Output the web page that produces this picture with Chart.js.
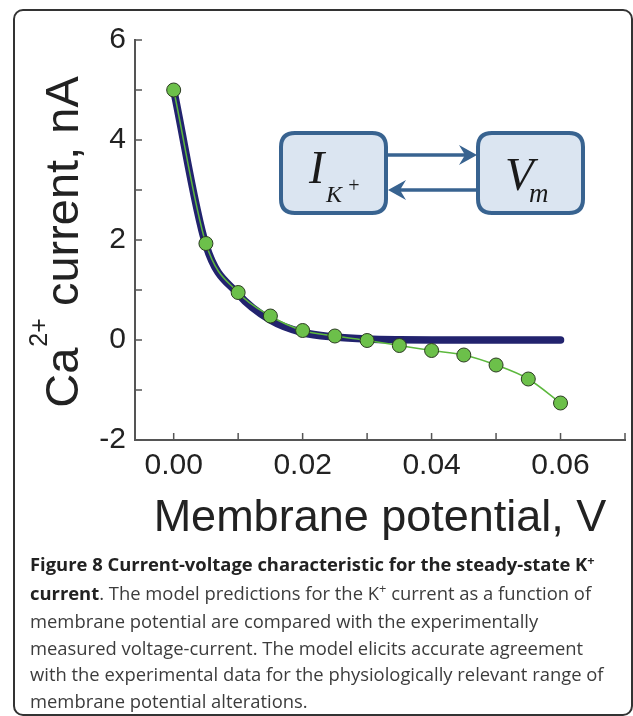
<!DOCTYPE html>
<html><head><meta charset="utf-8">
<script src="https://cdn.jsdelivr.net/npm/chart.js@4/dist/chart.umd.min.js"></script>
<style>
html,body{margin:0;padding:0;background:#fff;}
body{width:633px;height:716px;position:relative;overflow:hidden;}
#wrap{position:absolute;left:0;top:0;width:633px;height:716px;}
#frame{position:absolute;left:13px;top:9px;width:620px;height:707px;box-sizing:border-box;border:2px solid #333;border-radius:10px;pointer-events:none;}
#caption{position:absolute;left:30px;top:551px;font-family:"Open Sans";font-size:18.4px;line-height:26.5px;color:#3c3c3c;white-space:nowrap;}
#caption b{color:#222;font-weight:700}
#caption sup{font-size:0.7em;vertical-align:0;position:relative;top:-0.5em;}
</style></head>
<body>
<div id="wrap"><canvas id="c" width="633" height="716"></canvas></div>
<div id="frame"></div>
<div id="caption"><b>Figure 8 Current-voltage characteristic for the steady-state K<sup>+</sup><br>current</b>. The model predictions for the K<sup>+</sup> current as a function of<br>membrane potential are compared with the experimentally<br>measured voltage-current. The model elicits accurate agreement<br>with the experimental data for the physiologically relevant range of<br>membrane potential alterations.</div>
<script>
// ---- data ----
const xValues = [0, 0.005, 0.01, 0.015, 0.02, 0.025, 0.03, 0.035, 0.04, 0.045, 0.05, 0.055, 0.06];
const measured = [5.0, 1.93, 0.95, 0.48, 0.19, 0.08, -0.01, -0.11, -0.21, -0.30, -0.50, -0.78, -1.26];
const model = [5.0, 1.9, 0.92, 0.40, 0.15, 0.06, 0.02, 0.005, 0, 0, 0, 0, 0];
const xTickValues = [0, 0.02, 0.04, 0.06];
const xTickLabels = ['0.00', '0.02', '0.04', '0.06'];
const xMinorTicks = [0, 0.01, 0.02, 0.03, 0.04, 0.05, 0.06, 0.07];
const yTickValues = [-2, 0, 2, 4, 6];
const yTickLabels = ['-2', '0', '2', '4', '6'];
const yMinorTicks = [-2, -1, 0, 1, 2, 3, 4, 5, 6];
const xTitle = 'Membrane potential, V';
const yTitleParts = ['Ca', '2+', ' current, nA'];
const boxLabels = [['I', 'K', '+'], ['V', 'm']];

function rr(ctx, x, y, w, h, r) {
  ctx.beginPath();
  ctx.moveTo(x + r, y);
  ctx.lineTo(x + w - r, y); ctx.quadraticCurveTo(x + w, y, x + w, y + r);
  ctx.lineTo(x + w, y + h - r); ctx.quadraticCurveTo(x + w, y + h, x + w - r, y + h);
  ctx.lineTo(x + r, y + h); ctx.quadraticCurveTo(x, y + h, x, y + h - r);
  ctx.lineTo(x, y + r); ctx.quadraticCurveTo(x, y, x + r, y);
  ctx.closePath();
}

const deco = {
  id: 'deco',
  beforeDatasetsDraw(chart) {
    const ctx = chart.ctx, xs = chart.scales.x, ys = chart.scales.y;
    ctx.save();
    ctx.strokeStyle = '#555'; ctx.lineWidth = 1.5;
    xMinorTicks.forEach(v => { const p = xs.getPixelForValue(v); ctx.beginPath(); ctx.moveTo(p, ys.bottom); ctx.lineTo(p, ys.bottom - 7); ctx.stroke(); });
    yMinorTicks.forEach(v => { const p = ys.getPixelForValue(v); ctx.beginPath(); ctx.moveTo(xs.left, p); ctx.lineTo(xs.left + 7, p); ctx.stroke(); });
    ctx.restore();
  },
  afterDraw(chart) {
    const ctx = chart.ctx;
    ctx.save();
    // y title
    ctx.translate(78, 242);
    ctx.rotate(-Math.PI / 2);
    ctx.fillStyle = '#222';
    ctx.textBaseline = 'alphabetic';
    ctx.textAlign = 'left';
    const big = '47px "Liberation Sans"', small = '25px "Liberation Sans"';
    ctx.font = big; const w0 = ctx.measureText(yTitleParts[0]).width, w2 = ctx.measureText(yTitleParts[2]).width;
    ctx.font = small; const w1 = ctx.measureText(yTitleParts[1]).width;
    let sx = -(w0 + w1 + w2) / 2;
    ctx.font = big; ctx.fillText(yTitleParts[0], sx, 0); sx += w0;
    ctx.font = small; ctx.fillText(yTitleParts[1], sx + 1, -31); sx += w1;
    ctx.font = big; ctx.fillText(yTitleParts[2], sx, 0);
    ctx.restore();

    // diagram
    ctx.save();
    const stroke = '#386390', fill = '#dbe5f1';
    ctx.lineWidth = 4; ctx.strokeStyle = stroke; ctx.fillStyle = fill;
    rr(ctx, 281, 133, 105, 80, 14); ctx.fill(); ctx.stroke();
    rr(ctx, 478, 133, 105, 80, 14); ctx.fill(); ctx.stroke();
    // arrows
    ctx.lineWidth = 3.5;
    ctx.beginPath(); ctx.moveTo(388, 155); ctx.lineTo(468, 155); ctx.stroke();
    ctx.fillStyle = stroke;
    ctx.beginPath(); ctx.moveTo(477, 155); ctx.lineTo(459, 145); ctx.lineTo(465, 155); ctx.lineTo(459, 165); ctx.closePath(); ctx.fill();
    ctx.beginPath(); ctx.moveTo(476, 190); ctx.lineTo(396, 190); ctx.stroke();
    ctx.beginPath(); ctx.moveTo(388, 190); ctx.lineTo(406, 180); ctx.lineTo(400, 190); ctx.lineTo(406, 200); ctx.closePath(); ctx.fill();
    // labels
    ctx.fillStyle = '#1a1a1a'; ctx.textBaseline = 'alphabetic'; ctx.textAlign = 'left';
    ctx.font = 'italic 46px "Liberation Serif"'; ctx.fillText(boxLabels[0][0], 309, 183);
    ctx.font = 'italic 24px "Liberation Serif"'; ctx.fillText(boxLabels[0][1], 326, 202);
    ctx.font = 'italic 20px "Liberation Serif"'; ctx.fillText(boxLabels[0][2], 347, 192);
    ctx.font = 'italic 47px "Liberation Serif"'; ctx.fillText(boxLabels[1][0], 505, 190);
    ctx.font = 'italic 27px "Liberation Serif"'; ctx.fillText(boxLabels[1][1], 529, 202);
    ctx.restore();
  }
};

const tickFont = { family: 'Liberation Sans', size: 30 };
new Chart(document.getElementById('c'), {
  type: 'line',
  data: {
    datasets: [
      {
        label: 'measured',
        data: xValues.map((x, i) => ({ x, y: measured[i] })),
        borderColor: '#5cb83d', borderWidth: 1.5,
        pointRadius: 7, pointBackgroundColor: '#6cc04a', pointBorderColor: '#2b3a22', pointBorderWidth: 1,
        cubicInterpolationMode: 'monotone', fill: false
      },
      {
        label: 'model',
        data: xValues.map((x, i) => ({ x, y: model[i] })),
        borderColor: '#22236e', borderWidth: 7.5, pointRadius: 0,
        borderCapStyle: 'round', borderJoinStyle: 'round',
        cubicInterpolationMode: 'monotone', fill: false
      }
    ]
  },
  options: {
    responsive: false, animation: false, devicePixelRatio: 1,
    layout: { padding: { left: 0, top: 40, right: 8, bottom: 170 } },
    plugins: { legend: { display: false }, tooltip: { enabled: false } },
    scales: {
      x: {
        type: 'linear', min: -0.006, max: 0.07,
        afterBuildTicks: s => { s.ticks = xTickValues.map(v => ({ value: v })); },
        afterFit: s => { s.height = 106; },
        ticks: { callback: (v, i) => xTickLabels[i], font: tickFont, color: '#222', padding: 8, maxRotation: 0, autoSkip: false },
        grid: { display: true, drawOnChartArea: false, drawTicks: false },
        border: { display: true, color: '#555', width: 2 },
        title: { display: true, text: xTitle, font: { family: 'Liberation Sans', size: 45 }, color: '#222', padding: { top: 0, bottom: 0 } }
      },
      y: {
        type: 'linear', min: -2, max: 6,
        afterBuildTicks: s => { s.ticks = yTickValues.map(v => ({ value: v })); },
        afterFit: s => { s.width = 135; },
        ticks: { callback: (v, i) => yTickLabels[i], font: tickFont, color: '#222', padding: 9, autoSkip: false },
        grid: { display: true, drawOnChartArea: false, drawTicks: false },
        border: { display: true, color: '#555', width: 2 }
      }
    }
  },
  plugins: [deco]
});
</script>
</body></html>
